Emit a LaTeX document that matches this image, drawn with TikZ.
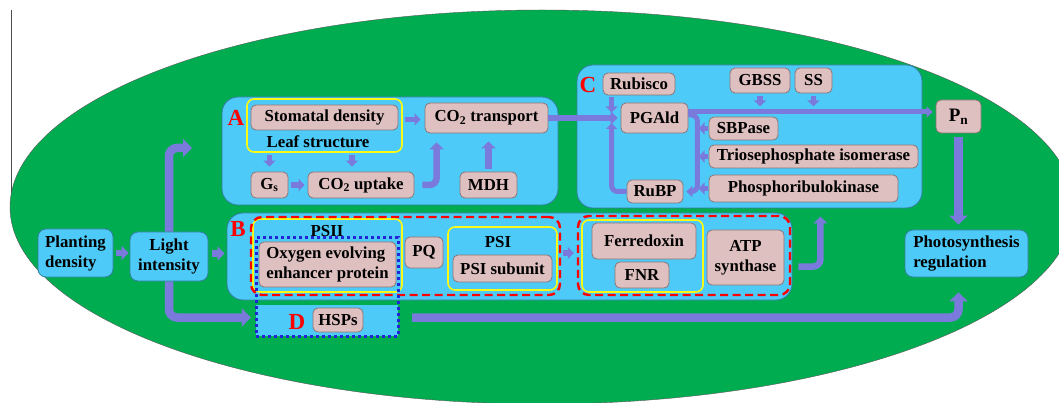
\documentclass[tikz,border=0pt]{standalone}
\usepackage{fontspec}
\setmainfont{Liberation Serif}
\usetikzlibrary{arrows.meta}

\definecolor{leafgreen}{RGB}{0,172,80}
\definecolor{skyblue}{RGB}{77,202,248}
\definecolor{skyedge}{RGB}{52,128,160}
\definecolor{rosefill}{RGB}{222,192,192}
\definecolor{roseedge}{RGB}{140,118,118}
\definecolor{flowblue}{RGB}{122,122,220}
\definecolor{dotblue}{RGB}{35,35,215}
\definecolor{hlyellow}{RGB}{250,250,20}

\tikzset{
  lbl/.style={font=\fontsize{16.8}{20}\selectfont\bfseries, text=black},
  rosebox/.style={lbl, draw=roseedge, fill=rosefill, line width=0.8pt,
    rounded corners=5pt, inner sep=0pt, align=center},
  panel/.style={draw=skyedge, fill=skyblue, line width=0.8pt,
    rounded corners=16pt, inner sep=0pt},
  skybox/.style={lbl, draw=skyedge, fill=skyblue, line width=0.8pt,
    rounded corners=8pt, inner sep=0pt},
  yellowring/.style={draw=hlyellow, line width=1.6pt, rounded corners=7pt,
    inner sep=0pt},
  reddash/.style={draw=red, line width=2.4pt, dash pattern=on 8pt off 4.5pt,
    rounded corners=11pt, inner sep=0pt},
  bluedot/.style={draw=dotblue, line width=3pt, dash pattern=on 3pt off 3pt,
    inner sep=0pt},
  tag/.style={font=\fontsize{23}{23}\selectfont\bfseries, text=red, inner sep=0pt},
  bigflow/.style={draw=flowblue, line width=8.5pt, rounded corners=8pt,
    -{Triangle[width=18pt,length=9pt]}},
  midflow/.style={draw=flowblue, line width=6.5pt, rounded corners=7pt,
    -{Triangle[width=14pt,length=7pt]}},
  smallflow/.style={draw=flowblue, line width=5.5pt,
    -{Triangle[width=12pt,length=6pt]}},
  thinflow/.style={draw=flowblue, line width=5pt, rounded corners=6pt,
    -{Triangle[width=11pt,length=6pt]}},
}

\begin{document}
\begin{tikzpicture}[x=1pt, y=-1pt]
\useasboundingbox (0,0) rectangle (1059,403);
\fill[white] (0,0) rectangle (1059,403);

% edge rule and leaf background
\draw[gray!60!black, line width=0.8pt] (11,10) -- (11,212);
\fill[leafgreen] (542,207) ellipse [x radius=532pt, y radius=197pt];
\draw[gray!70!black, line width=0.4pt] (542,207) ellipse [x radius=532pt, y radius=197pt];

% panels
\node[panel, minimum width=336pt, minimum height=108pt] (boxA) at (390,151) {};
\node[panel, minimum width=565pt, minimum height=87pt] (boxB) at (509.5,256.5) {};
\node[panel, minimum width=345pt, minimum height=143pt] (boxC) at (749.5,136.5) {};
\node[fill=skyblue, inner sep=0pt, minimum width=142pt, minimum height=31pt] (boxD) at (327,320.5) {};

% outer entry / exit boxes
\node[skybox, minimum width=75pt, minimum height=48pt, align=left] (planting) at (75.5,253) {Planting\\density};
\node[skybox, minimum width=78pt, minimum height=49pt, align=center] (light) at (169,256.5) {Light\\intensity};
\node[skybox, minimum width=123pt, minimum height=47pt, align=left] (photoreg) at (966.5,253.5) {Photosynthesis\\regulation};

% yellow groups
\node[yellowring, minimum width=155pt, minimum height=53pt] (leafY) at (324.5,125.5) {};
\node[yellowring, minimum width=149pt, minimum height=73pt] (psiiY) at (327.5,255.5) {};
\node[yellowring, minimum width=109pt, minimum height=63pt] (psiY) at (502.5,258.5) {};
\node[yellowring, minimum width=121pt, minimum height=72pt] (fdY) at (642.5,256) {};

% red dashed groups
\node[reddash, minimum width=309pt, minimum height=78pt] (red1) at (405.5,256) {};
\node[reddash, minimum width=212pt, minimum height=79pt] (red2) at (684,255.5) {};

% panel A
\node[rosebox, minimum width=147pt, minimum height=25pt] (stomatal) at (324.5,117.5) {Stomatal density};
\node[lbl] (leaftext) at (318,142) {Leaf structure};
\node[rosebox, minimum width=37pt, minimum height=26pt] (gs) at (269.5,185) {G\textsubscript{s}};
\node[rosebox, minimum width=106pt, minimum height=26pt] (uptake) at (361,185) {CO\textsubscript{2} uptake};
\node[rosebox, minimum width=123pt, minimum height=30pt] (transport) at (486.5,118) {CO\textsubscript{2} transport};
\node[rosebox, minimum width=57pt, minimum height=26pt] (mdh) at (488.5,185) {MDH};

% panel C
\node[rosebox, minimum width=72pt, minimum height=22pt] (rubisco) at (639,84) {Rubisco};
\node[rosebox, minimum width=60pt, minimum height=25pt] (gbss) at (760,80.5) {GBSS};
\node[rosebox, minimum width=37pt, minimum height=25pt] (ss) at (813.5,80.5) {SS};
\node[rosebox, minimum width=67pt, minimum height=30pt] (pgald) at (654.5,118) {PGAld};
\node[rosebox, minimum width=69pt, minimum height=23pt] (sbpase) at (743.5,128.5) {SBPase};
\node[rosebox, minimum width=209pt, minimum height=23pt] (triose) at (813.5,156.5) {Triosephosphate isomerase};
\node[rosebox, minimum width=189pt, minimum height=27pt] (prk) at (803.5,188.5) {Phosphoribulokinase};
\node[rosebox, minimum width=56pt, minimum height=23pt] (rubp) at (655,191.5) {RuBP};
\node[rosebox, minimum width=45pt, minimum height=33pt, font=\fontsize{19}{19}\selectfont\bfseries] (pn) at (958.5,116.5) {P\textsubscript{n}};

% panel B
\node[lbl] (psiitext) at (327,231) {PSII};
\node[rosebox, minimum width=137pt, minimum height=45pt, align=left] (oee) at (327.5,264.5) {Oxygen evolving\\enhancer protein};
\node[rosebox, minimum width=38pt, minimum height=31pt] (pq) at (424,252.5) {PQ};
\node[lbl] (psitext) at (498,242) {PSI};
\node[rosebox, minimum width=99pt, minimum height=27pt] (psisub) at (502.5,268.5) {PSI subunit};
\node[rosebox, minimum width=104pt, minimum height=36pt] (ferredoxin) at (644,241) {Ferredoxin};
\node[rosebox, minimum width=54pt, minimum height=26pt] (fnr) at (642,275) {FNR};
\node[rosebox, minimum width=77pt, minimum height=55pt] (atp) at (745.5,257.5) {ATP\\synthase};

% panel D
\node[rosebox, minimum width=50pt, minimum height=24pt] (hsps) at (338,320) {HSPs};
\node[bluedot, minimum width=142pt, minimum height=98pt] (dotring) at (327,287) {};

% panel letters
\node[tag] (tagA) at (236,118) {A};
\node[tag] (tagB) at (238,229) {B};
\node[tag] (tagC) at (588,85) {C};
\node[tag] (tagD) at (297,322) {D};

% connectors: entry side
\draw[midflow, shorten <=3pt, shorten >=1pt] (planting.east) -- (planting.east -| light.west);
\draw[midflow, shorten <=4pt, shorten >=2pt] ([yshift=3pt]light.east) -- ([yshift=3pt]light.east -| boxB.west);
\coordinate (aIn) at (192,148);
\draw[bigflow] (light.north) |- (aIn);
\draw[bigflow, shorten >=5pt] (light.south) |- ([yshift=3pt]boxD.west);

% connectors: panel A
\draw[smallflow, shorten <=2pt, shorten >=5pt] (gs.north |- leafY.south) -- (gs.north);
\draw[smallflow, shorten <=2pt, shorten >=5pt] ([xshift=-9pt]uptake.north |- leafY.south) -- ([xshift=-9pt]uptake.north);
\draw[smallflow, shorten <=3pt, shorten >=3pt] (gs) -- (uptake);
\draw[smallflow, shorten <=2pt, shorten >=4pt] ([yshift=-2pt]leafY.east |- stomatal.east) -- ([yshift=-2pt]transport.west |- stomatal.east);
\draw[midflow, shorten <=8pt, shorten >=9pt] (uptake.east) -| ([xshift=12pt]transport.south west);
\draw[midflow, shorten <=3pt, shorten >=8pt] (mdh.north) -- (mdh.north |- transport.south);
\draw[midflow, shorten >=3pt] (transport.east) -- (pgald.west);

% connectors: panel C
\draw[smallflow, shorten <=2pt] ([xshift=9pt]rubisco.south west) -- ++(0,17);
\draw[smallflow, shorten <=3pt] (gbss.south) -- ++(0,13);
\draw[smallflow, shorten <=3pt] (ss.south) -- ++(0,13);
\draw[thinflow, shorten >=3pt] ([yshift=6pt]pgald.east) -- ([yshift=6pt]pgald.east -| pn.west);
\draw[thinflow, shorten >=3pt] ([yshift=3pt]pgald.east) -- ++(9,0) |- (rubp.east);
\draw[smallflow, shorten <=1pt] (sbpase.west) -- ++(-10,0);
\draw[smallflow, shorten <=1pt] (triose.west) -- ++(-10,0);
\draw[smallflow, shorten <=1pt] (prk.west) -- ++(-10,0);
\draw[thinflow] (rubp.west) -| ([xshift=-9pt,yshift=-5pt]pgald.west);

% connectors: panel B and exits
\draw[smallflow, shorten <=2pt, shorten >=3pt] ([yshift=3pt]red1.east) -- ([yshift=3pt]red1.east -| red2.west);
\draw[midflow, shorten <=6pt] ([yshift=-10pt]boxB.east) -- ++(28,0) -- ++(0,-50);
\draw[bigflow, shorten <=4pt, shorten >=5pt] (pn.south) -- (pn.south |- photoreg.north);
\draw[bigflow, shorten <=14pt, shorten >=15pt] ([yshift=3pt]boxD.east) -| ([xshift=-8pt]photoreg.south);
\end{tikzpicture}
\end{document}
